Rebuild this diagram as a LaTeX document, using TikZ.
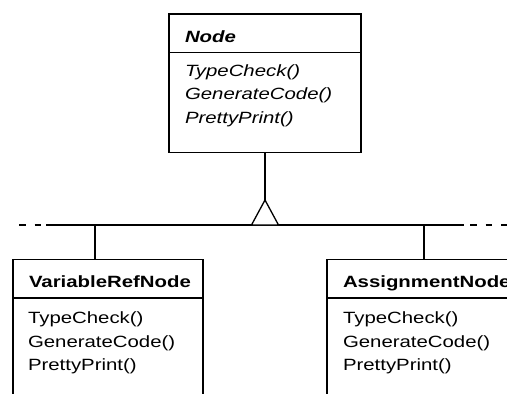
\documentclass[tikz,border=0pt]{standalone}
\usepackage{fontspec}
\setmainfont{Liberation Sans}[FakeStretch=1.25]
\usetikzlibrary{positioning}

\begin{document}
\begin{tikzpicture}[x=1pt, y=-1pt, line width=1.3pt,
    every node/.style = {font=\fontsize{16.3}{23.4}\selectfont, outer sep=0pt},
    classhead/.style = {rectangle, draw, anchor=north west, align=left, text width=#1, inner xsep=16pt, inner ysep=0pt, text height=28pt, text depth=10.5pt},
    classbody/.style = {rectangle, draw, minimum width=#1, inner sep=0pt},
    classops/.style = {align=left, inner sep=0pt},
    busdash/.style = {dash pattern=on 6.5pt off 9pt}]
    \useasboundingbox (0,0) rectangle (507,394);
    \clip (0,0) rectangle (507,394);

    \node[classhead=160pt] (node) at (169,14) {\textbf{\textit{Node}}};
    \node[classbody=192pt, minimum height=100pt, below=0pt of node] (nodebody) {};
    \node[classops, below right=12pt and 16pt of nodebody.north west] (nodeops) {\textit{TypeCheck()}\\\textit{GenerateCode()}\\\textit{PrettyPrint()}};

    \node[classhead=158pt] (varref) at (13,259.5) {\textbf{VariableRefNode}};
    \node[classbody=190pt, minimum height=110pt, below=0pt of varref] (varrefbody) {};
    \node[classops, below right=14pt and 15pt of varrefbody.north west] (varrefops) {TypeCheck()\\GenerateCode()\\PrettyPrint()};

    \node[classhead=158pt] (assign) at (327,259.5) {\mbox{\textbf{AssignmentNode}}};
    \node[classbody=190pt, minimum height=110pt, below=0pt of assign] (assignbody) {};
    \node[classops, below right=14pt and 16pt of assignbody.north west] (assignops) {TypeCheck()\\GenerateCode()\\PrettyPrint()};

    \coordinate (apex) at (265,200);
    \coordinate (busW) at (19,225);
    \coordinate (busL) at (46,225);
    \coordinate (busR) at (464,225);
    \coordinate (busE) at (507,225);
    \coordinate (tapvar) at (95,225);
    \coordinate (tapassign) at (424,225);

    \draw (busL) -- (busR);
    \draw[busdash] (busW) -- (busL);
    \draw[busdash, dash phase=9.5pt] (busR) -- (busE);
    \draw (nodebody.south -| apex) -- (apex);
    \draw[fill=white] (apex) -- ++(13.5,25) -- ++(-27,0) -- cycle;
    \draw (tapvar) -- (tapvar |- varref.north);
    \draw (tapassign) -- (tapassign |- assign.north);
\end{tikzpicture}
\end{document}
